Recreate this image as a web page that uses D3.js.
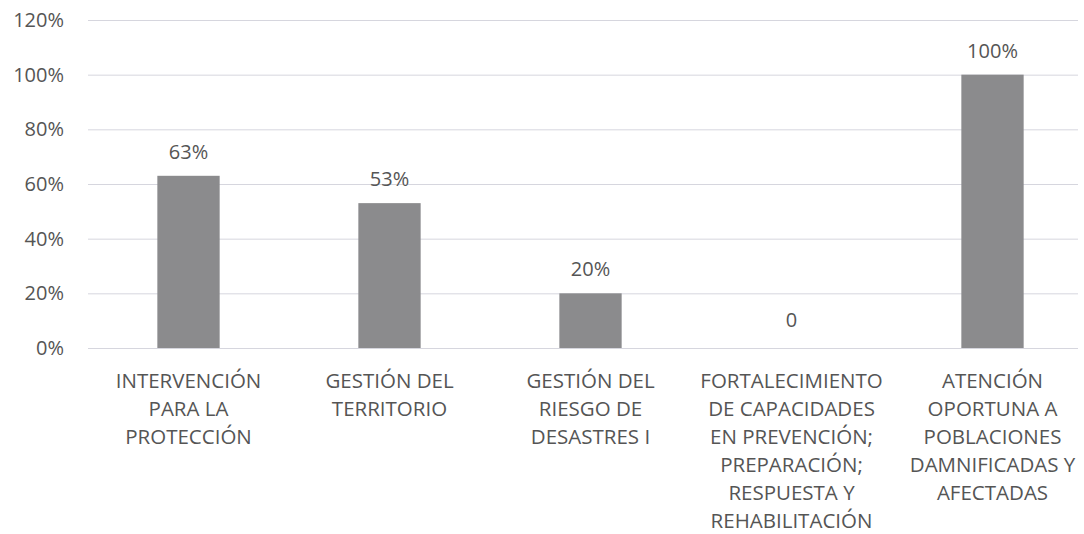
<!DOCTYPE html>
<html>
<head>
<meta charset="utf-8">
<script src="https://cdn.jsdelivr.net/npm/d3@7"></script>
<style>
  body { margin: 0; background: #fff; }
  text { font-family: "Open Sans", sans-serif; fill: #555; }
</style>
</head>
<body>
<div id="content"></div>
<script>
// categories, each split in the lines shown under the bars
var categories = [
    ["INTERVENCIÓN", "PARA LA", "PROTECCIÓN"],
    ["GESTIÓN DEL", "TERRITORIO"],
    ["GESTIÓN DEL", "RIESGO DE", "DESASTRES I"],
    ["FORTALECIMIENTO", "DE CAPACIDADES", "EN PREVENCIÓN;", "PREPARACIÓN;", "RESPUESTA Y", "REHABILITACIÓN"],
    ["ATENCIÓN", "OPORTUNA A", "POBLACIONES", "DAMNIFICADAS Y", "AFECTADAS"]
];
var values = [0.63, 0.53, 0.20, 0, 1.00];
var valueLabels = ["63%", "53%", "20%", "0", "100%"];
var yTicks = [0, 0.2, 0.4, 0.6, 0.8, 1.0, 1.2];

var width = 1084,
    height = 534;

var svg = d3.select("#content")
    .append("svg")
    .attr("width", width)
    .attr("height", height);

var x = d3.scaleBand()
    .domain(d3.range(categories.length))
    .range([88, 1093])
    .paddingInner(0.69)
    .paddingOuter(0.345);

var y = d3.scaleLinear()
    .domain([0, 1.2])
    .range([348, 20]);

// gridlines
svg.append("g")
    .selectAll("line")
    .data(yTicks)
    .enter()
    .append("line")
    .attr("x1", 88)
    .attr("x2", 1078)
    .attr("y1", function (d) { return y(d) + 0.5; })
    .attr("y2", function (d) { return y(d) + 0.5; })
    .attr("stroke", "#d6d6de")
    .attr("stroke-width", 1);

// y axis labels
var yAxis = d3.axisLeft(y)
    .tickValues(yTicks)
    .tickFormat(d3.format(".0%"))
    .tickSize(0)
    .tickPadding(0);

var gy = svg.append("g")
    .attr("transform", "translate(64,0)")
    .call(yAxis);
gy.select(".domain").remove();
gy.selectAll("text")
    .style("font-family", "'Open Sans', sans-serif")
    .style("font-size", "20px")
    .attr("fill", "#5a5a5a");

// bars
svg.selectAll(".bar")
    .data(values)
    .enter()
    .append("rect")
    .attr("class", "bar")
    .attr("x", function (d, i) { return x(i); })
    .attr("width", x.bandwidth())
    .attr("y", function (d) { return y(d); })
    .attr("height", function (d) { return y(0) - y(d); })
    .attr("fill", "#8b8b8d");

// value labels
svg.selectAll(".vlabel")
    .data(values)
    .enter()
    .append("text")
    .attr("class", "vlabel")
    .attr("x", function (d, i) { return x(i) + x.bandwidth() / 2; })
    .attr("y", function (d) { return y(d) - (d === 0 ? 21 : 17); })
    .attr("text-anchor", "middle")
    .style("font-size", "20px")
    .text(function (d, i) { return valueLabels[i]; });

// category labels
var cat = svg.selectAll(".cat")
    .data(categories)
    .enter()
    .append("text")
    .attr("class", "cat")
    .attr("text-anchor", "middle")
    .style("font-size", "20.5px")
    .attr("transform", function (d, i) {
        return "translate(" + (x(i) + x.bandwidth() / 2) + ",388)";
    });

cat.selectAll("tspan")
    .data(function (d) { return d; })
    .enter()
    .append("tspan")
    .attr("x", 0)
    .attr("y", function (d, j) { return j * 28; })
    .text(function (d) { return d; });
</script>
</body>
</html>
